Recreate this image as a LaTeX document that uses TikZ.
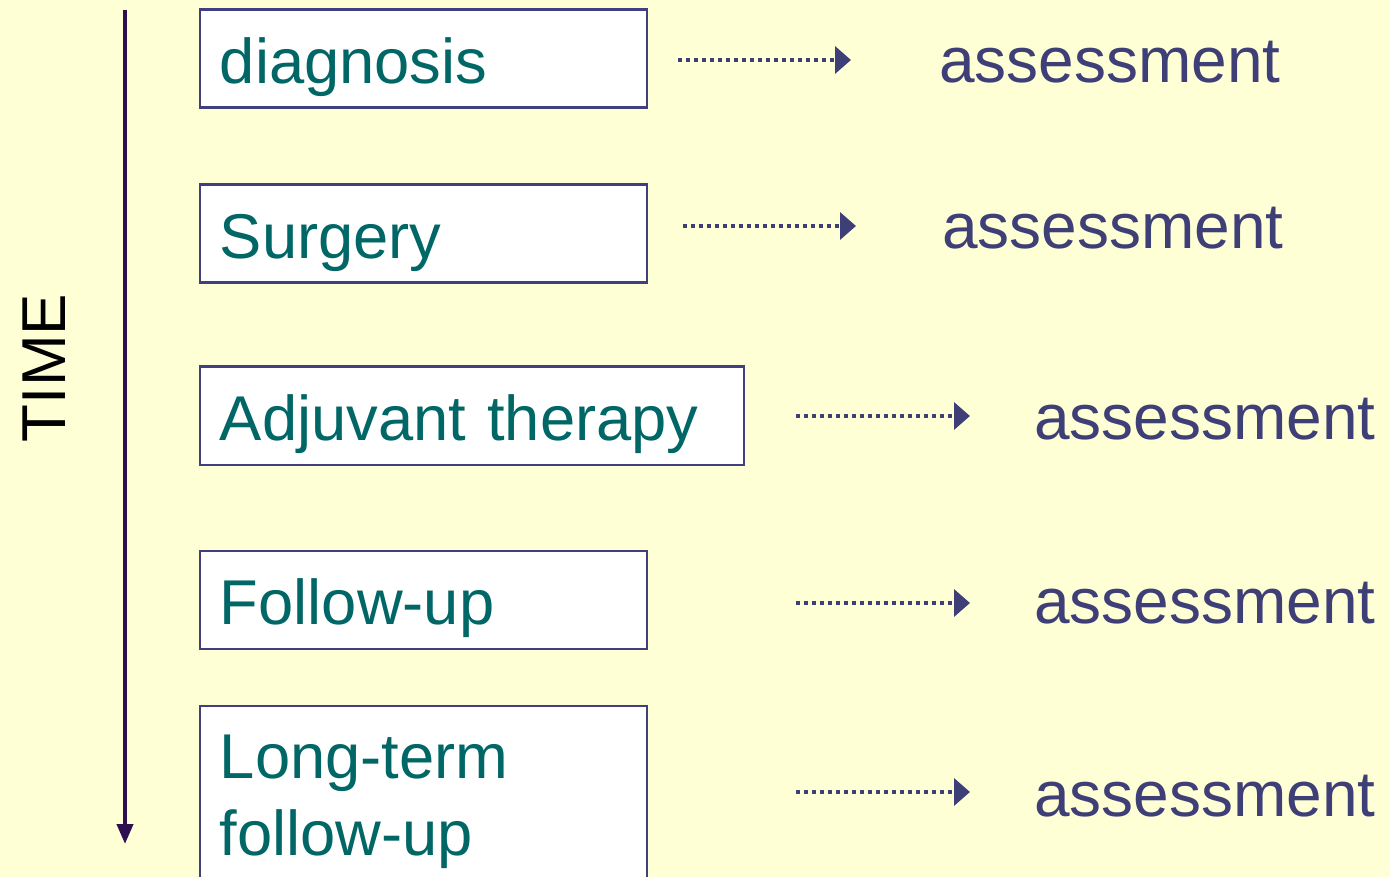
\documentclass[tikz,border=0pt]{standalone}
\usepackage{fontspec}
\setmainfont{Liberation Sans}
\usetikzlibrary{arrows.meta}
\definecolor{bg}{HTML}{FFFFD5}
\definecolor{boxline}{HTML}{404080}
\definecolor{tealtxt}{HTML}{006666}
\definecolor{asscol}{HTML}{3F3F78}
\definecolor{timecol}{HTML}{2E1050}
\tikzset{
  box/.style={draw=boxline, line width=2.8pt, fill=white, anchor=north west,
    inner xsep=20pt, inner ysep=0pt, text=tealtxt, align=left,
    font=\fontsize{63.3}{77}\selectfont, text height=74pt, text depth=24pt},
  assess/.style={anchor=base west, inner sep=0pt, text=asscol,
    font=\fontsize{64}{77}\selectfont},
  dotarrow/.style={draw=asscol, line width=3.5pt, dash pattern=on 3.5pt off 4.5pt,
    -{Triangle[length=16pt,width=27pt]}},
  timearrow/.style={draw=timecol, line width=4pt, -{Triangle[length=20pt,width=16pt]}}
}
\begin{document}
\begin{tikzpicture}[x=1pt,y=-1pt]
\fill[bg] (0,0) rectangle (1390,877);
\useasboundingbox (0,0) rectangle (1390,877);

% time axis
\coordinate (t0) at (125,10);
\coordinate (t1) at (125,844);
\draw[timearrow] (t0) -- (t1);
\node[rotate=90, font=\fontsize{62}{70}\selectfont, text=black, inner sep=0pt] (time) at (44,368) {TIME};

% boxes
\node[box, text width=407pt] (diag) at (198.5,8.5) {diagnosis};
\node[box, text width=407pt] (surg) at (198.5,183.5) {Surgery};
\node[box, text width=504pt] (adj) at (198.5,365.5) {Adjuvant therapy};
\node[box, text width=407pt] (fol) at (198.5,549.5) {Follow-up};
\node[box, text width=407pt, text height=73pt, text depth=200pt] (ltf) at (198.5,704.5)
  {\parbox[t]{407pt}{\fontsize{63.3}{77}\selectfont Long-term\\follow-up}};

% assessments
\node[assess] (a1) at (939,83) {assessment};
\node[assess] (a2) at (942,249) {assessment};
\node[assess] (a3) at (1034,439) {assessment};
\node[assess] (a4) at (1034,623) {assessment};
\node[assess] (a5) at (1034,816) {assessment};

% dotted arrows
\coordinate (s1) at (678,60);  \coordinate (e1) at (851,60);
\coordinate (s2) at (683,226); \coordinate (e2) at (856,226);
\coordinate (s3) at (796,416); \coordinate (e3) at (970,416);
\coordinate (s4) at (796,603); \coordinate (e4) at (970,603);
\coordinate (s5) at (796,792); \coordinate (e5) at (970,792);
\draw[dotarrow] (s1) -- (e1);
\draw[dotarrow] (s2) -- (e2);
\draw[dotarrow] (s3) -- (e3);
\draw[dotarrow] (s4) -- (e4);
\draw[dotarrow] (s5) -- (e5);
\end{tikzpicture}
\end{document}
